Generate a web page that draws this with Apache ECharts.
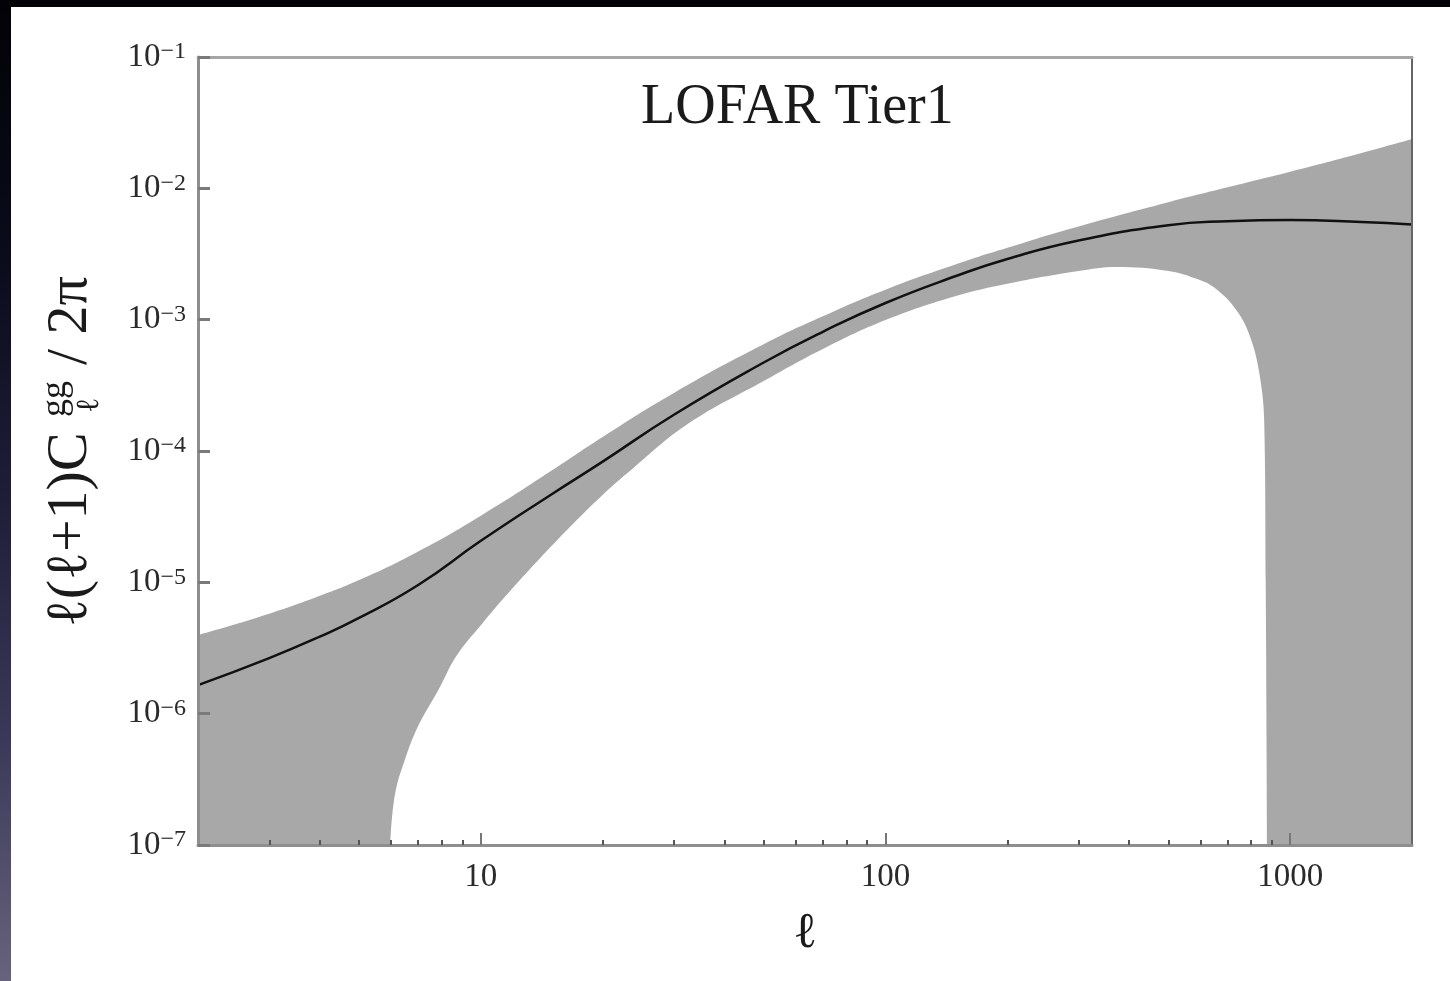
<!DOCTYPE html>
<html>
<head>
<meta charset="utf-8">
<title>LOFAR Tier1</title>
<script src="https://cdn.jsdelivr.net/npm/echarts@6/dist/echarts.min.js"></script>
<style>
  html, body {
    margin: 0;
    padding: 0;
    width: 1450px;
    height: 981px;
    overflow: hidden;
    background: linear-gradient(to bottom, #020206 0%, #0a0a1a 25%, #1d1d38 50%, #3a3858 75%, #67637e 100%);
  }
  #chart {
    position: absolute;
    left: 11px;
    top: 7px;
    width: 1439px;
    height: 974px;
    background: #fff;
  }
</style>
</head>
<body>
<div id="chart"></div>
<script>
// multipole values and the galaxy power spectrum
const ell = [2, 3, 4, 5, 7, 10, 15, 20, 30, 50, 70, 100, 150, 200, 300, 500, 700, 1000, 1500, 2000];
const signal = [1.65e-6, 2.65e-6, 3.86e-6, 5.36e-6, 9.55e-6, 2.07e-5, 4.71e-5, 8.30e-5, 1.89e-4, 4.72e-4,
  8.09e-4, 1.34e-3, 2.16e-3, 2.90e-3, 4.01e-3, 5.24e-3, 5.62e-3, 5.75e-3, 5.55e-3, 5.31e-3];
// upper edge of the error band
const upper = [3.97e-6, 5.77e-6, 7.89e-6, 1.04e-5, 1.72e-5, 3.22e-5, 7.14e-5, 1.28e-4, 2.77e-4, 6.49e-4,
  1.06e-3, 1.69e-3, 2.65e-3, 3.53e-3, 5.13e-3, 7.85e-3, 1.02e-2, 1.34e-2, 1.86e-2, 2.38e-2];
// lower edge of the error band (below the plot outside this range)
const ellLow = [5.97, 6.13, 6.5, 7, 7.9, 8.7, 10, 11.6, 15.3, 19.9, 23.7, 32.5, 50, 70, 100, 150, 200,
  300, 371, 500, 596, 656, 735, 793, 838, 863, 870, 877];
const lower = [1e-7, 2.40e-7, 4.52e-7, 8.05e-7, 1.57e-6, 2.75e-6, 4.71e-6, 8.07e-6, 2.04e-5, 4.57e-5,
  7.34e-5, 1.61e-4, 3.41e-4, 5.98e-4, 9.93e-4, 1.52e-3, 1.88e-3, 2.35e-3, 2.52e-3, 2.35e-3,
  2.01e-3, 1.71e-3, 1.19e-3, 7.64e-4, 3.99e-4, 1.58e-4, 1e-5, 1e-7];

// minor ticks on the x axis
const minorTicksX = [3, 4, 5, 6, 7, 8, 9, 20, 30, 40, 50, 60, 70, 80, 90, 200, 300, 400, 500, 600, 700, 800, 900];

const serif = '"Liberation Serif", "DejaVu Serif", serif';
const pair = (xs, ys) => xs.map((x, i) => [x, ys[i]]);

const chart = echarts.init(document.getElementById('chart'));

const option = {
  animation: false,
  backgroundColor: '#fff',
  title: {
    text: 'LOFAR Tier1',
    left: 630,
    top: 73,
    padding: 0,
    textStyle: { fontFamily: serif, fontSize: 56, fontWeight: 'normal', color: '#1a1a1a' }
  },
  grid: { left: 187, top: 50, right: 38, bottom: 136 },
  xAxis: [
    {
      type: 'log',
      logBase: 10,
      min: 2,
      max: 2000,
      position: 'bottom',
      z: 10,
      axisLine: { show: true, onZero: false, lineStyle: { color: '#8e8e8e', width: 3 } },
      axisTick: { show: true, inside: true, length: 12, lineStyle: { color: '#777', width: 2 } },
      axisLabel: {
        showMinLabel: false,
        showMaxLabel: false,
        margin: 16,
        formatter: v => String(Math.round(v)),
        fontFamily: serif,
        fontSize: 33,
        color: '#2a2a2a'
      },
      splitLine: { show: false },
      name: 'ℓ',
      nameLocation: 'middle',
      nameGap: 64,
      nameTextStyle: { fontFamily: serif, fontSize: 50, color: '#1a1a1a' }
    },
    {
      type: 'log',
      logBase: 10,
      min: 2,
      max: 2000,
      position: 'bottom',
      z: 10,
      axisLine: { show: false },
      axisTick: { show: true, inside: true, length: 5, customValues: minorTicksX, lineStyle: { color: '#555', width: 2 } },
      axisLabel: { show: false },
      splitLine: { show: false }
    },
    {
      type: 'log',
      logBase: 10,
      min: 2,
      max: 2000,
      position: 'top',
      z: 10,
      axisLine: { show: true, onZero: false, lineStyle: { color: '#a6a6a6', width: 3 } },
      axisTick: { show: false },
      axisLabel: { show: false },
      splitLine: { show: false }
    }
  ],
  yAxis: [
    {
      type: 'log',
      logBase: 10,
      min: 1e-7,
      max: 1e-1,
      splitNumber: 6,
      z: 10,
      axisLine: { show: true, onZero: false, lineStyle: { color: '#8e8e8e', width: 3 } },
      axisTick: { show: true, inside: true, length: 12, lineStyle: { color: '#7a7a7a', width: 3 } },
      axisLabel: {
        margin: 12,
        formatter: v => '{b|10}{e|\u2212' + (-Math.round(Math.log10(v))) + '}',
        rich: {
          b: { fontFamily: serif, fontSize: 33, lineHeight: 34, color: '#2a2a2a' },
          e: { fontFamily: serif, fontSize: 24, lineHeight: 24, verticalAlign: 'top', color: '#2a2a2a' }
        }
      },
      splitLine: { show: false }
    },
    {
      type: 'log',
      logBase: 10,
      min: 1e-7,
      max: 1e-1,
      position: 'right',
      z: 10,
      axisLine: { show: true, onZero: false, lineStyle: { color: '#666', width: 2 } },
      axisTick: { show: false },
      axisLabel: { show: false },
      splitLine: { show: false }
    }
  ],
  graphic: [
    {
      type: 'group',
      x: 60,
      y: 620,
      rotation: Math.PI / 2,
      silent: true,
      children: [
        { type: 'text', x: 0, y: 0, style: { text: 'ℓ(ℓ+1)C', font: '58px ' + serif, fill: '#1a1a1a', verticalAlign: 'middle' } },
        { type: 'text', x: 210, y: -15, style: { text: 'gg', font: '36px ' + serif, fill: '#1a1a1a', verticalAlign: 'middle' } },
        { type: 'text', x: 214, y: 19, style: { text: 'ℓ', font: '32px ' + serif, fill: '#1a1a1a', verticalAlign: 'middle' } },
        { type: 'text', x: 262, y: 0, style: { text: '/ 2π', font: '58px ' + serif, fill: '#1a1a1a', verticalAlign: 'middle' } }
      ]
    }
  ],
  series: [
    {
      name: 'upper',
      type: 'line',
      xAxisIndex: 0,
      yAxisIndex: 0,
      data: pair(ell, upper),
      symbol: 'none',
      smooth: 0.5,
      lineStyle: { width: 0, opacity: 0 },
      areaStyle: { color: '#a8a8a8', opacity: 1, origin: 'start' },
      silent: true,
      z: 2
    },
    {
      name: 'lower',
      type: 'line',
      xAxisIndex: 0,
      yAxisIndex: 0,
      data: pair(ellLow, lower),
      symbol: 'none',
      smooth: 0.4,
      lineStyle: { width: 0, opacity: 0 },
      areaStyle: { color: '#ffffff', opacity: 1, origin: 'start' },
      silent: true,
      z: 3
    },
    {
      name: 'signal',
      type: 'line',
      xAxisIndex: 0,
      yAxisIndex: 0,
      data: pair(ell, signal),
      symbol: 'none',
      smooth: 0.5,
      lineStyle: { color: '#111', width: 2.5 },
      silent: true,
      z: 4
    }
  ]
};

chart.setOption(option);
</script>
</body>
</html>
